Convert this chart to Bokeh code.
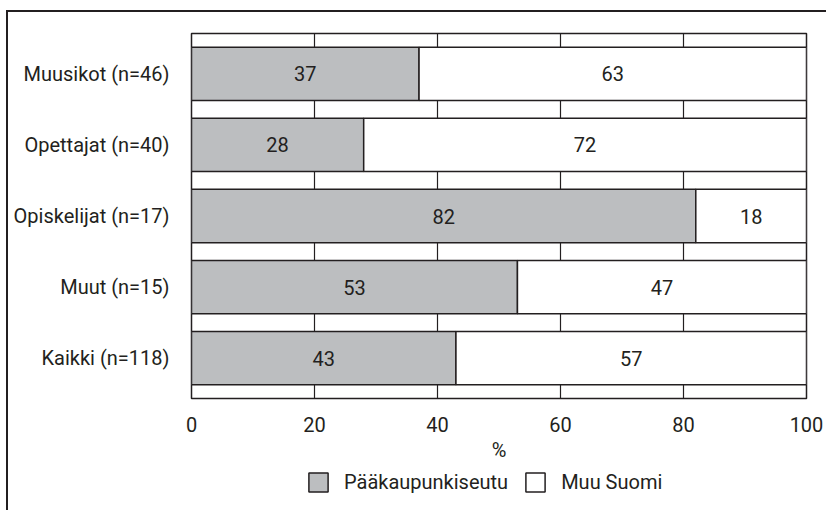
from bokeh.plotting import figure
from bokeh.layouts import column
from bokeh.models import Range1d, FixedTicker, Legend, LegendItem, ColumnDataSource
from bokeh.core.properties import value
from bokeh.embed import file_html
from bokeh.resources import INLINE

categories = ["Muusikot (n=46)", "Opettajat (n=40)", "Opiskelijat (n=17)",
              "Muut (n=15)", "Kaikki (n=118)"]
paakaupunkiseutu = [37, 28, 82, 53, 43]
muu_suomi = [63, 72, 18, 47, 57]
x_ticks = [0, 20, 40, 60, 80, 100]
series_names = ["Pääkaupunkiseutu", "Muu Suomi"]

FONT = "Roboto"
FS = "20px"
INK = "#231f20"
GRAY = "#bcbec0"

n = len(categories)
ypos = [n - i for i in range(n)]

src = ColumnDataSource(dict(
    y=ypos,
    a_end=paakaupunkiseutu,
    b_end=[a + b for a, b in zip(paakaupunkiseutu, muu_suomi)],
    a_mid=[a / 2 for a in paakaupunkiseutu],
    b_mid=[a + b / 2 for a, b in zip(paakaupunkiseutu, muu_suomi)],
    a_lab=[str(v) for v in paakaupunkiseutu],
    b_lab=[str(v) for v in muu_suomi],
))

# ---------------- main chart ----------------
p = figure(width=818, height=456, output_backend="svg", toolbar_location=None,
           x_range=Range1d(0, 100), y_range=Range1d(0.43, n + 0.57),
           min_border_left=183, min_border_right=20, min_border_top=21,
           min_border_bottom=70)

p.outline_line_color = INK
p.outline_line_width = 1.5
p.background_fill_color = "white"
p.border_fill_color = "white"

r1 = p.hbar(y="y", left=0, right="a_end", height=0.75, source=src,
            fill_color=GRAY, line_color=INK, line_width=1.5)
r2 = p.hbar(y="y", left="a_end", right="b_end", height=0.75, source=src,
            fill_color="white", line_color=INK, line_width=1.5)

p.text(x="a_mid", y="y", text="a_lab", source=src, text_align="center",
       text_baseline="middle", text_font=value(FONT), text_font_size=FS,
       text_color=INK)
p.text(x="b_mid", y="y", text="b_lab", source=src, text_align="center",
       text_baseline="middle", text_font=value(FONT), text_font_size=FS,
       text_color=INK)

p.ygrid.grid_line_color = None
p.xgrid.ticker = FixedTicker(ticks=x_ticks)
p.xgrid.grid_line_color = INK
p.xgrid.grid_line_width = 1.2

p.xaxis.ticker = FixedTicker(ticks=x_ticks)
p.xaxis.axis_line_color = None
p.xaxis.major_tick_line_color = None
p.xaxis.minor_tick_line_color = None
p.xaxis.major_label_standoff = 12
p.xaxis.major_label_text_font = FONT
p.xaxis.major_label_text_font_size = FS
p.xaxis.major_label_text_color = INK
p.xaxis.axis_label = "%"
p.xaxis.axis_label_text_font = FONT
p.xaxis.axis_label_text_font_size = FS
p.xaxis.axis_label_text_font_style = "normal"
p.xaxis.axis_label_text_color = INK
p.xaxis.axis_label_standoff = 3

p.yaxis.ticker = FixedTicker(ticks=ypos)
p.yaxis.major_label_overrides = {y: c for y, c in zip(ypos, categories)}
p.yaxis.axis_line_color = None
p.yaxis.major_tick_line_color = None
p.yaxis.minor_tick_line_color = None
p.yaxis.major_label_standoff = 16
p.yaxis.major_label_text_font = FONT
p.yaxis.major_label_text_font_size = FS
p.yaxis.major_label_text_color = INK

# ---------------- legend strip ----------------
lg = figure(width=818, height=42, output_backend="svg", toolbar_location=None,
            x_range=Range1d(0, 1), y_range=Range1d(0, 1),
            x_axis_location=None, y_axis_location=None,
            min_border=0)
lg.outline_line_color = None
lg.grid.visible = False
lg.border_fill_color = "white"
lg.background_fill_color = "white"
d1 = lg.hbar(y="y", left=0, right="a_end", height=0.75, source=src,
             fill_color=GRAY, line_color=INK, line_width=1.5, visible=False)
d2 = lg.hbar(y="y", left="a_end", right="b_end", height=0.75, source=src,
             fill_color="white", line_color=INK, line_width=1.5, visible=False)

legend = Legend(items=[LegendItem(label=series_names[0], renderers=[d1]),
                       LegendItem(label=series_names[1], renderers=[d2])],
                orientation="horizontal", location=(115, 16),
                glyph_width=24, glyph_height=24, label_standoff=14, spacing=15,
                padding=0, margin=0, border_line_color=None,
                background_fill_alpha=0,
                label_text_font=FONT, label_text_font_size=FS,
                label_text_color=INK, label_text_baseline="middle")
lg.add_layout(legend, "center")

layout = column(p, lg, spacing=0)
layout.styles = {"margin-top": "10px", "margin-left": "6px",
                 "border-top": "2px solid #231f20",
                 "border-left": "2px solid #231f20"}

open("out.html", "w").write(file_html(layout, INLINE))
